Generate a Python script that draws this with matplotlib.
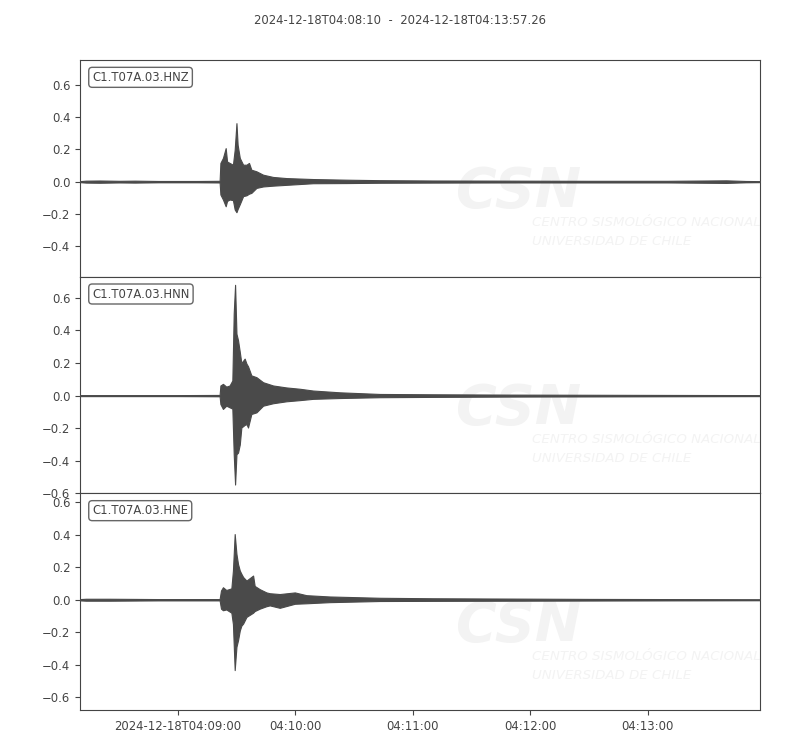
import matplotlib
matplotlib.use('Agg')
import matplotlib.pyplot as plt
import matplotlib.dates as mdates
from matplotlib.ticker import FuncFormatter, MultipleLocator
import numpy as np

start = np.datetime64('2024-12-18T04:08:10.000')
duration = 347.26  # seconds
title = '2024-12-18T04:08:10  -  2024-12-18T04:13:57.26'

channels = ['C1.T07A.03.HNZ', 'C1.T07A.03.HNN', 'C1.T07A.03.HNE']

# envelope of each trace (seconds after start, upper, lower)
hnz_t = [0, 3, 10, 20, 28, 40, 60, 71.3, 71.7, 73.0, 74.4, 75.1, 76.4, 78.1, 79.0, 79.9, 80.5, 81.6,
         83.3, 85.0, 86.3, 87.5, 90.1, 93.5, 98.6, 105.4, 119.0, 136.1, 153.1, 180, 220, 260, 300, 330, 340, 347.26]
hnz_up = [0.003, 0.006, 0.007, 0.005, 0.006, 0.004, 0.004, 0.005, 0.116, 0.147, 0.208, 0.125, 0.116, 0.105, 0.198,
          0.363, 0.229, 0.147, 0.105, 0.105, 0.116, 0.074, 0.064, 0.043, 0.029, 0.022, 0.016, 0.012, 0.009,
          0.007, 0.006, 0.005, 0.005, 0.008, 0.004, 0.003]
hnz_lo = [-0.003, -0.006, -0.007, -0.005, -0.006, -0.004, -0.004, -0.005, -0.080, -0.111, -0.153, -0.120, -0.111,
          -0.115, -0.173, -0.190, -0.170, -0.140, -0.090, -0.085, -0.075, -0.070, -0.039, -0.030, -0.025, -0.020,
          -0.010, -0.009, -0.007, -0.006, -0.005, -0.005, -0.005, -0.008, -0.004, -0.003]

hnn_t = [0, 20, 50, 71.3, 71.7, 73.0, 74.7, 76.4, 77.8, 78.5, 79.2, 79.9, 80.7, 81.6, 82.4, 84.1, 85.0, 85.8,
         87.5, 90.1, 93.5, 98.6, 105.4, 112.2, 119.0, 132.7, 153.1, 180, 220, 260, 300, 347.26]
hnn_up = [0.003, 0.003, 0.003, 0.004, 0.062, 0.072, 0.055, 0.062, 0.093, 0.505, 0.680, 0.380, 0.340, 0.268, 0.200,
          0.227, 0.196, 0.180, 0.124, 0.113, 0.082, 0.062, 0.050, 0.042, 0.031, 0.020, 0.010, 0.008, 0.006, 0.005,
          0.004, 0.003]
hnn_lo = [-0.003, -0.003, -0.003, -0.004, -0.052, -0.082, -0.062, -0.072, -0.080, -0.360, -0.546, -0.360, -0.350,
          -0.300, -0.196, -0.180, -0.175, -0.196, -0.113, -0.103, -0.062, -0.047, -0.035, -0.028, -0.020, -0.015,
          -0.010, -0.008, -0.006, -0.005, -0.004, -0.003]

hne_t = [0, 3, 15, 28, 40, 60, 71.3, 72.0, 73.0, 74.7, 77.3, 78.1, 79.0, 79.9, 80.7, 81.6, 82.4, 83.3, 85.0,
         88.4, 89.2, 91.8, 95.2, 96.9, 102.0, 109.7, 115.6, 127.5, 153.1, 180, 220, 260, 300, 347.26]
hne_up = [0.004, 0.006, 0.006, 0.005, 0.004, 0.004, 0.004, 0.057, 0.077, 0.060, 0.070, 0.180, 0.405, 0.282, 0.220,
          0.180, 0.160, 0.140, 0.118, 0.149, 0.085, 0.065, 0.045, 0.040, 0.035, 0.045, 0.028, 0.020, 0.012,
          0.009, 0.007, 0.005, 0.004, 0.003]
hne_lo = [-0.004, -0.006, -0.006, -0.005, -0.004, -0.004, -0.004, -0.055, -0.065, -0.060, -0.080, -0.150, -0.434,
          -0.290, -0.250, -0.190, -0.160, -0.147, -0.106, -0.080, -0.070, -0.055, -0.040, -0.035, -0.050, -0.025,
          -0.022, -0.015, -0.008, -0.007, -0.006, -0.005, -0.004, -0.003]

traces = [(hnz_t, hnz_up, hnz_lo), (hnn_t, hnn_up, hnn_lo), (hne_t, hne_up, hne_lo)]
ylims = [(-0.59, 0.755), (-0.60, 0.73), (-0.68, 0.656)]

trace_color = '#4a4a4a'
text_color = '#444444'
wm_color = '#f3f3f3'
fs = 8.4


def to_dates(seconds):
    ms = (np.asarray(seconds) * 1000).astype('int64')
    return mdates.date2num(start + ms.astype('timedelta64[ms]'))


def time_label(x, pos):
    d = mdates.num2date(x)
    if pos == 0:
        return d.strftime('%Y-%m-%dT%H:%M:%S')
    return d.strftime('%H:%M:%S')


fig = plt.figure(figsize=(8, 7.5), dpi=100)
left, width = 0.1, 0.85
top, height = 0.92, 0.28889

x0, x1 = to_dates([0, duration])
axes = []
for i, (name, (t, up, lo)) in enumerate(zip(channels, traces)):
    ax = fig.add_axes([left, top - (i + 1) * height, width, height])
    axes.append(ax)
    td = to_dates(t)
    ax.fill_between(td, up, lo, color=trace_color, linewidth=0.8, edgecolor=trace_color, zorder=3)
    ax.plot([x0, x1], [0, 0], color=trace_color, linewidth=0.8, zorder=3)

    # faint watermark
    ax.text(0.553, 0.32, 'CSN', transform=ax.transAxes, fontsize=40, fontweight='bold',
            style='italic', color=wm_color, zorder=1, clip_on=True)
    ax.text(0.665, 0.205, 'CENTRO SISMOLÓGICO NACIONAL\nUNIVERSIDAD DE CHILE', transform=ax.transAxes,
            fontsize=9.6, style='italic', color=wm_color, linespacing=1.6, va='center', zorder=1,
            clip_on=True)

    ax.text(0.018, 0.92, name, transform=ax.transAxes, fontsize=fs, color=text_color,
            va='center', ha='left', zorder=5,
            bbox=dict(boxstyle='round,pad=0.3', facecolor='white', edgecolor='#666666', linewidth=1.0))

    ax.set_xlim(x0, x1)
    ax.set_ylim(*ylims[i])
    ax.yaxis.set_major_locator(MultipleLocator(0.2))
    ax.tick_params(colors=text_color, labelsize=fs, labelcolor=text_color)
    for sp in ax.spines.values():
        sp.set_color(text_color)
    if i < 2:
        ax.tick_params(axis='x', bottom=False, labelbottom=False)

axes[-1].xaxis.set_major_locator(mdates.MinuteLocator())
axes[-1].xaxis.set_major_formatter(FuncFormatter(time_label))

fig.text(0.5, 0.973, title, ha='center', va='center', fontsize=fs, color=text_color)

fig.savefig('out.png', dpi=100)
